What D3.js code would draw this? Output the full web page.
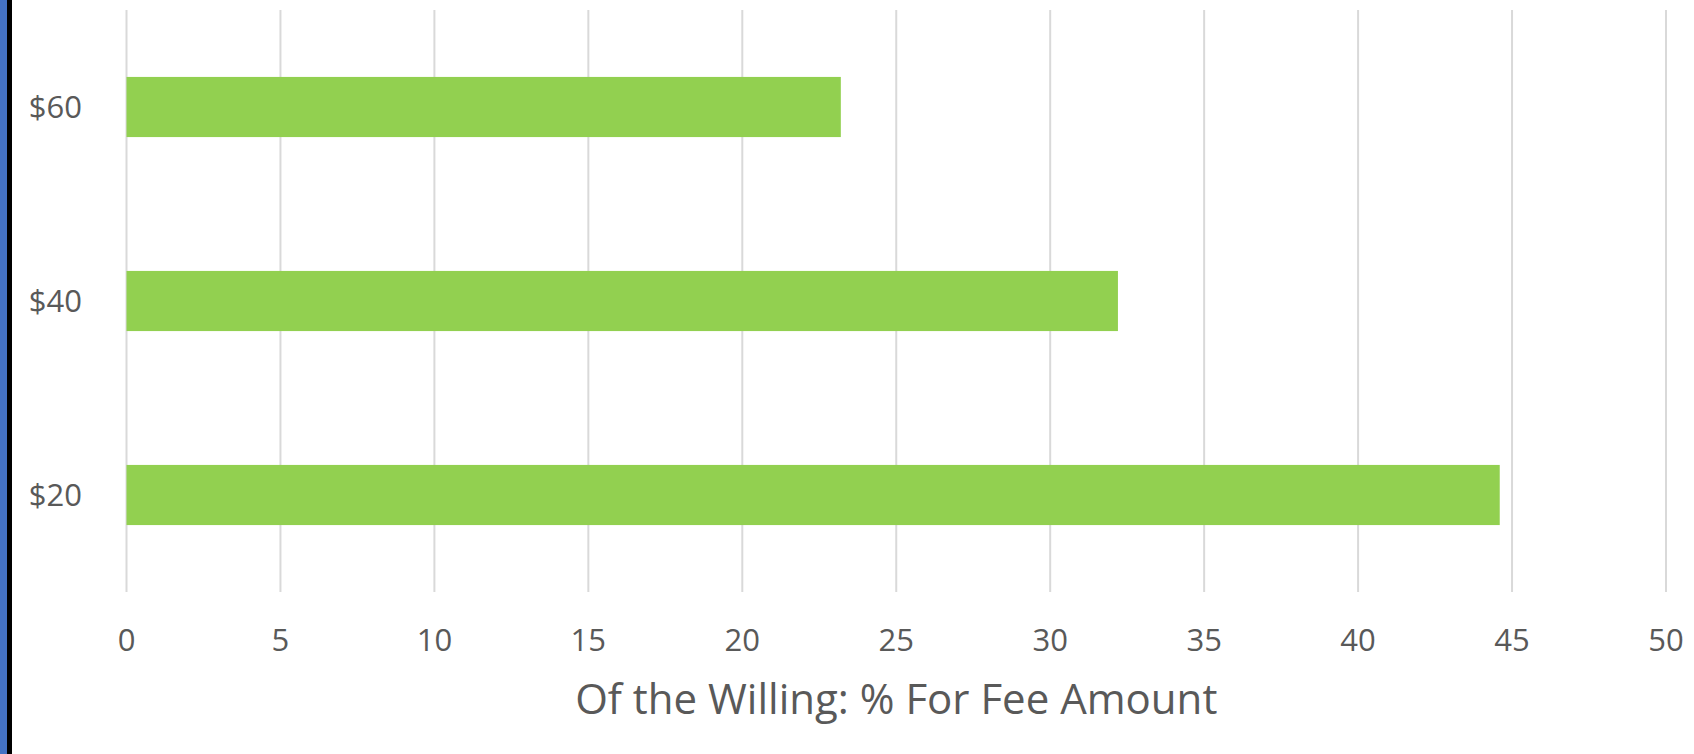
<!DOCTYPE html>
<html>
<head>
<meta charset="utf-8">
<script src="https://cdn.jsdelivr.net/npm/d3@7"></script>
<style>
  body { margin: 0; background: #fff; }
  svg { display: block; }
  text { font-family: "Open Sans", "Noto Sans", sans-serif; fill: #595959; }
</style>
</head>
<body>
<script>
var categories = ["$60", "$40", "$20"];
var values = [23.2, 32.2, 44.6];
var xTicks = [0, 5, 10, 15, 20, 25, 30, 35, 40, 45, 50];
var axisTitle = "Of the Willing: % For Fee Amount";

const width = 1694;
const height = 754;
const plotLeft = 126.5, plotRight = 1666, plotTop = 10, plotBottom = 592;

const svg = d3.select("body")
  .append("svg")
  .attr("width", width)
  .attr("height", height);

// blue/black frame strip on the left
svg.append("rect").attr("x", 0).attr("y", 0).attr("width", 7).attr("height", height).attr("fill", "#4472c4");
svg.append("rect").attr("x", 7).attr("y", 0).attr("width", 5).attr("height", height).attr("fill", "#000");

var x = d3.scaleLinear().domain([0, 50]).range([plotLeft, plotRight]);
var y = d3.scaleBand().domain(categories).range([plotTop, plotBottom])
  .paddingInner(0.69).paddingOuter(0.345);

// gridlines
svg.selectAll(".grid")
  .data(xTicks)
  .enter()
  .append("line")
  .attr("x1", function(d) { return x(d); })
  .attr("x2", function(d) { return x(d); })
  .attr("y1", plotTop)
  .attr("y2", plotBottom)
  .attr("stroke", "#d9d9d9")
  .attr("stroke-width", 2);

// bars
svg.selectAll(".bar")
  .data(values)
  .enter()
  .append("rect")
  .attr("x", x(0))
  .attr("y", function(d, i) { return y(categories[i]); })
  .attr("width", function(d) { return x(d) - x(0); })
  .attr("height", y.bandwidth())
  .attr("fill", "#92d050");

// category labels
svg.selectAll(".cat")
  .data(categories)
  .enter()
  .append("text")
  .attr("x", 82)
  .attr("y", function(d) { return y(d) + y.bandwidth() / 2; })
  .attr("dy", "0.35em")
  .attr("text-anchor", "end")
  .style("font-size", "31px")
  .text(function(d) { return d; });

// x tick labels
svg.selectAll(".tick")
  .data(xTicks)
  .enter()
  .append("text")
  .attr("x", function(d) { return x(d); })
  .attr("y", 651)
  .attr("text-anchor", "middle")
  .style("font-size", "31px")
  .text(function(d) { return d; });

svg.append("text")
  .attr("x", (plotLeft + plotRight) / 2)
  .attr("y", 714)
  .attr("text-anchor", "middle")
  .style("font-size", "42px")
  .text(axisTitle);
</script>
</body>
</html>
